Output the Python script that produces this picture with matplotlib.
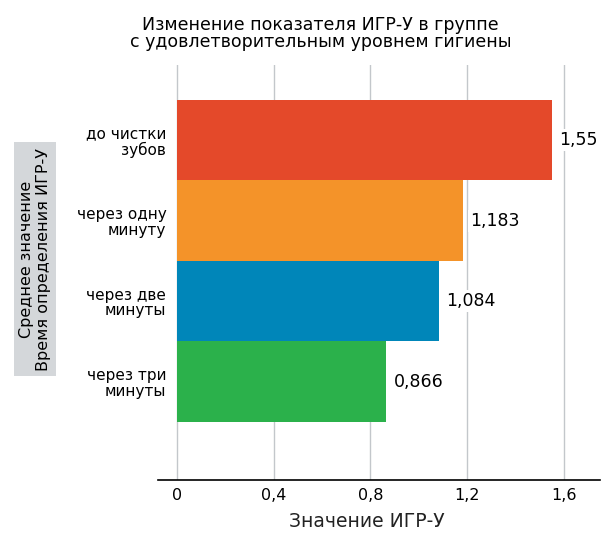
import matplotlib
matplotlib.use("Agg")
import matplotlib.pyplot as plt

plt.rcParams['font.family'] = ['DejaVu Sans']

# Data
categories = ["до чистки\nзубов", "через одну\nминуту", "через две\nминуты", "через три\nминуты"]
values = [1.55, 1.183, 1.084, 0.866]
value_labels = ["1,55", "1,183", "1,084", "0,866"]
colors = ["#E4492A", "#F49329", "#0086B9", "#2BB14B"]
x_ticks = [0, 0.4, 0.8, 1.2, 1.6]
x_tick_labels = ["0", "0,4", "0,8", "1,2", "1,6"]

title = "Изменение показателя ИГР-У в группе\nс удовлетворительным уровнем гигиены"
x_label = "Значение ИГР-У"
y_label = "Среднее значение\nВремя определения ИГР-У"

fig = plt.figure(figsize=(6.02, 5.33), dpi=100)
fig.patch.set_facecolor("white")
ax = fig.add_axes([0.2625, 0.0994, 0.734, 0.7786])
ax.set_facecolor("white")

ypos = list(range(len(categories)))
ax.barh(ypos, values, height=1.0, color=colors, zorder=2)

ax.set_xlim(-0.0786, 1.75)
ax.set_ylim(4.22, -0.932)

# vertical grid
for t in x_ticks:
    ax.axvline(t, color="#c3c7cb", lw=1.0, zorder=1)

ax.set_xticks(x_ticks)
ax.set_xticklabels(x_tick_labels, fontsize=11.5)
ax.tick_params(axis="x", length=0, pad=6)

ax.set_yticks(ypos)
ax.set_yticklabels(categories, fontsize=11, linespacing=1.05)
ax.tick_params(axis="y", length=0, pad=-6)
for lbl in ax.get_yticklabels():
    lbl.set_horizontalalignment("right")
    lbl.set_multialignment("right")

for s in ["top", "right", "left"]:
    ax.spines[s].set_visible(False)
ax.spines["bottom"].set_color("black")
ax.spines["bottom"].set_linewidth(1.2)

# value labels
for y, v, lab in zip(ypos, values, value_labels):
    ax.annotate(lab, xy=(v, y), xytext=(5.5, 0), textcoords="offset points",
                ha="left", va="center", fontsize=12.5, zorder=3,
                bbox=dict(boxstyle="square,pad=0.12", fc="white", ec="none"))

fig.text(0.532, 0.97, title, ha="center", va="top", fontsize=12.5, linespacing=0.95)
fig.text(0.61, 0.004, x_label, ha="center", va="bottom", fontsize=13.5, color="#222222")
fig.text(0.058, 0.514, y_label, ha="center", va="center", rotation=90, fontsize=11.5,
         linespacing=1.1, multialignment="center",
         bbox=dict(boxstyle="square,pad=0.35", fc="#d4d7da", ec="none"))

fig.savefig("out.png", dpi=100, facecolor="white")
